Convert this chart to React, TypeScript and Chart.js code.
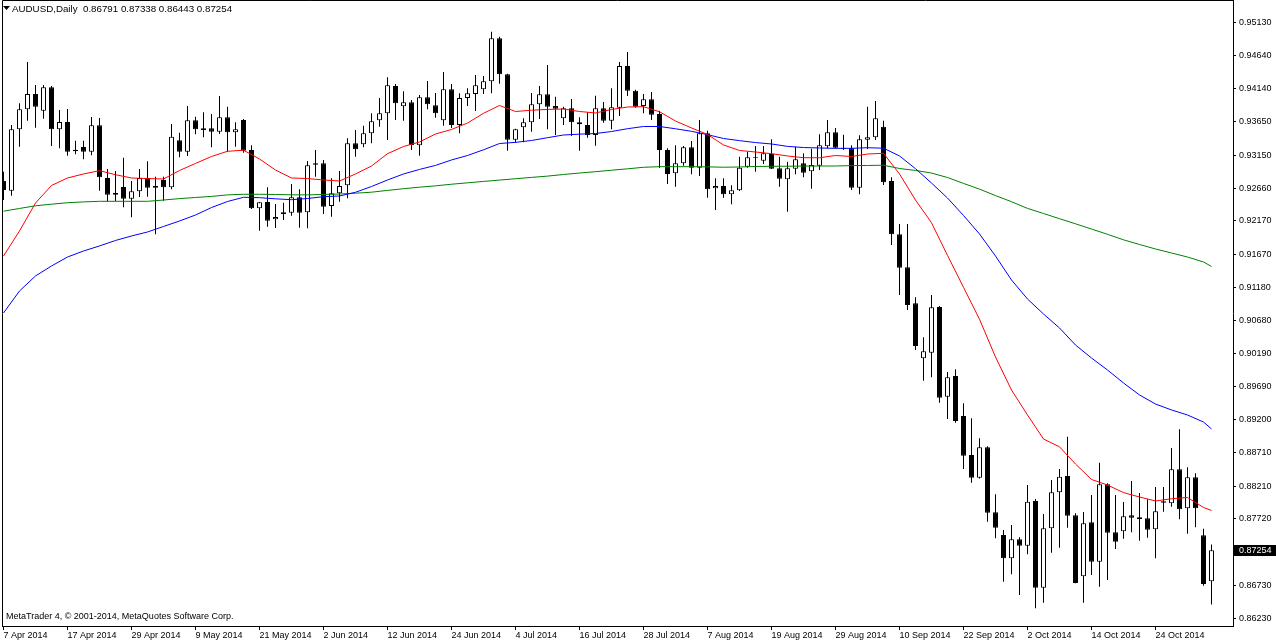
import React, { useEffect, useRef } from 'react';
import { Chart, registerables } from 'chart.js';

Chart.register(...registerables);

// ---------- data ----------
const symbolName = 'AUDUSD,Daily';
const footerText = 'MetaTrader 4, \u00A9 2001-2014, MetaQuotes Software Corp.';

const dateTickLabels = ['7 Apr 2014', '17 Apr 2014', '29 Apr 2014', '9 May 2014', '21 May 2014', '2 Jun 2014', '12 Jun 2014', '24 Jun 2014', '4 Jul 2014', '16 Jul 2014', '28 Jul 2014', '7 Aug 2014', '19 Aug 2014', '29 Aug 2014', '10 Sep 2014', '22 Sep 2014', '2 Oct 2014', '14 Oct 2014', '24 Oct 2014'];
const dateTickBars = [0, 8, 16, 24, 32, 40, 48, 56, 64, 72, 80, 88, 96, 104, 112, 120, 128, 136, 144];

const priceTicks = [0.95130, 0.94640, 0.94140, 0.93650, 0.93150, 0.92660, 0.92170, 0.91670, 0.91180, 0.90680, 0.90190, 0.89690, 0.89200, 0.88710, 0.88210, 0.87720, 0.86730, 0.86230];

const opens = [
  0.92771, 0.92621, 0.93538, 0.93837, 0.94065, 0.93816, 0.94165, 0.93538, 0.93647, 0.93234,
  0.93274, 0.93204, 0.93598, 0.92811, 0.92587, 0.92677, 0.92502, 0.92612, 0.92811, 0.92691,
  0.92781, 0.92672, 0.93374, 0.93204, 0.93673, 0.93553, 0.93553, 0.93502, 0.93717, 0.93493,
  0.93677, 0.93229, 0.92358, 0.92453, 0.92194, 0.92299, 0.92293, 0.92523, 0.92299, 0.93030,
  0.93030, 0.92393, 0.92583, 0.92702, 0.93329, 0.93314, 0.93478, 0.93673, 0.93777, 0.94185,
  0.93882, 0.93941, 0.93299, 0.94016, 0.93897, 0.93673, 0.94135, 0.93602, 0.94006, 0.94065,
  0.94135, 0.94255, 0.94897, 0.94359, 0.93383, 0.93568, 0.93643, 0.93911, 0.94061, 0.93886,
  0.93703, 0.93852, 0.93643, 0.93602, 0.93453, 0.93852, 0.93667, 0.93861, 0.94483, 0.94115,
  0.93886, 0.93986, 0.93767, 0.93229, 0.92881, 0.93030, 0.93269, 0.92965, 0.93478, 0.92657,
  0.92691, 0.92568, 0.92627, 0.92980, 0.93120, 0.93070, 0.93169, 0.92956, 0.92792, 0.92950,
  0.93030, 0.92911, 0.92995, 0.93284, 0.93493, 0.93254, 0.93254, 0.92666, 0.93383, 0.93419,
  0.93577, 0.92766, 0.91970, 0.91477, 0.90940, 0.90118, 0.90202, 0.90884, 0.89545, 0.89854,
  0.89257, 0.88675, 0.88336, 0.88790, 0.87819, 0.87480, 0.87132, 0.87416, 0.87320, 0.87988,
  0.86693, 0.87580, 0.88117, 0.88361, 0.87774, 0.86863, 0.87670, 0.87081, 0.88237, 0.87520,
  0.87535, 0.87774, 0.87744, 0.87729, 0.87565, 0.87983, 0.87953, 0.88461, 0.87879, 0.88342,
  0.87475, 0.86791,
];

const highs = [
  0.92905, 0.93602, 0.93926, 0.94543, 0.94200, 0.94200, 0.94185, 0.93826, 0.93841, 0.93368,
  0.93368, 0.93722, 0.93707, 0.92945, 0.92915, 0.93114, 0.92766, 0.92945, 0.93060, 0.92830,
  0.92830, 0.93617, 0.93487, 0.93886, 0.93726, 0.93792, 0.93767, 0.94035, 0.93876, 0.93643,
  0.93692, 0.93299, 0.92453, 0.92672, 0.92423, 0.92442, 0.92721, 0.92642, 0.93065, 0.93229,
  0.93080, 0.92806, 0.92915, 0.93404, 0.93528, 0.93592, 0.93777, 0.94006, 0.94315, 0.94215,
  0.94106, 0.93976, 0.94050, 0.94259, 0.94080, 0.94394, 0.94215, 0.94076, 0.94150, 0.94349,
  0.94334, 0.94996, 0.94921, 0.94369, 0.93548, 0.93703, 0.94080, 0.94185, 0.94498, 0.94025,
  0.93876, 0.93991, 0.93717, 0.93792, 0.94040, 0.93946, 0.94150, 0.94543, 0.94692, 0.94130,
  0.94065, 0.94095, 0.93816, 0.93254, 0.93299, 0.93289, 0.93363, 0.93677, 0.93517, 0.92806,
  0.92806, 0.92702, 0.93129, 0.93199, 0.93289, 0.93289, 0.93389, 0.93129, 0.93054, 0.93278,
  0.93180, 0.93248, 0.93464, 0.93677, 0.93558, 0.93458, 0.93299, 0.93449, 0.93876, 0.93961,
  0.93667, 0.92821, 0.92124, 0.92124, 0.91029, 0.90432, 0.91064, 0.90899, 0.89914, 0.89954,
  0.89447, 0.89222, 0.88924, 0.88805, 0.88088, 0.87554, 0.87629, 0.87445, 0.88226, 0.88018,
  0.87793, 0.88301, 0.88466, 0.88948, 0.87804, 0.87823, 0.88077, 0.88560, 0.88252, 0.88077,
  0.87973, 0.88286, 0.88107, 0.88013, 0.88197, 0.88197, 0.88779, 0.89058, 0.88491, 0.88401,
  0.87574, 0.87338,
];

const lows = [
  0.92482, 0.92547, 0.93278, 0.93667, 0.93562, 0.93696, 0.93289, 0.93254, 0.93144, 0.93165,
  0.93090, 0.93150, 0.92621, 0.92463, 0.92463, 0.92373, 0.92224, 0.92527, 0.92532, 0.91970,
  0.92472, 0.92642, 0.93120, 0.93140, 0.93464, 0.93419, 0.93269, 0.93468, 0.93204, 0.93278,
  0.93189, 0.92348, 0.92024, 0.92084, 0.92064, 0.92184, 0.92248, 0.92069, 0.92060, 0.92830,
  0.92273, 0.92233, 0.92457, 0.92508, 0.93129, 0.93269, 0.93329, 0.93577, 0.93378, 0.93677,
  0.93667, 0.93229, 0.93144, 0.93837, 0.93711, 0.93592, 0.93558, 0.93478, 0.93886, 0.93811,
  0.94065, 0.94076, 0.94219, 0.93219, 0.93338, 0.93344, 0.93502, 0.93692, 0.93538, 0.93453,
  0.93602, 0.93438, 0.93219, 0.93413, 0.93293, 0.93637, 0.93538, 0.93737, 0.94035, 0.93861,
  0.93777, 0.93677, 0.92960, 0.92721, 0.92681, 0.92995, 0.92866, 0.92841, 0.92517, 0.92333,
  0.92517, 0.92418, 0.92617, 0.92965, 0.92905, 0.93020, 0.92945, 0.92681, 0.92308, 0.92866,
  0.92821, 0.92651, 0.92930, 0.93254, 0.93254, 0.93229, 0.92632, 0.92568, 0.93244, 0.93378,
  0.92706, 0.91810, 0.91064, 0.90840, 0.90243, 0.89784, 0.89835, 0.89455, 0.89212, 0.89157,
  0.88466, 0.88261, 0.88324, 0.87679, 0.87431, 0.86782, 0.86893, 0.86584, 0.87192, 0.86385,
  0.86469, 0.87216, 0.87290, 0.87589, 0.86758, 0.86469, 0.86883, 0.86708, 0.86808, 0.87271,
  0.87425, 0.87520, 0.87395, 0.87440, 0.87132, 0.87828, 0.87902, 0.87714, 0.87499, 0.87595,
  0.86723, 0.86443,
];

const closes = [
  0.92632, 0.93538, 0.93837, 0.94065, 0.93876, 0.94165, 0.93538, 0.93647, 0.93204, 0.93210,
  0.93204, 0.93598, 0.92821, 0.92562, 0.92562, 0.92502, 0.92612, 0.92811, 0.92666, 0.92666,
  0.92672, 0.93428, 0.93204, 0.93673, 0.93538, 0.93528, 0.93502, 0.93717, 0.93493, 0.93538,
  0.93219, 0.92358, 0.92448, 0.92173, 0.92229, 0.92273, 0.92523, 0.92293, 0.93001, 0.93010,
  0.92382, 0.92583, 0.92691, 0.93329, 0.93240, 0.93478, 0.93658, 0.93777, 0.94195, 0.93926,
  0.93941, 0.93304, 0.94016, 0.93911, 0.93777, 0.94135, 0.93602, 0.94006, 0.94076, 0.94195,
  0.94255, 0.94897, 0.94359, 0.93383, 0.93538, 0.93643, 0.93911, 0.94061, 0.93876, 0.93846,
  0.93852, 0.93643, 0.93613, 0.93453, 0.93852, 0.93667, 0.93867, 0.94483, 0.94115, 0.93876,
  0.93986, 0.93756, 0.93229, 0.92871, 0.93030, 0.93269, 0.92965, 0.93478, 0.92642, 0.92691,
  0.92568, 0.92627, 0.92965, 0.93120, 0.93109, 0.93180, 0.92950, 0.92801, 0.92956, 0.93090,
  0.92890, 0.93005, 0.93299, 0.93493, 0.93263, 0.93244, 0.92666, 0.93389, 0.93419, 0.93703,
  0.92747, 0.91970, 0.91471, 0.90914, 0.90302, 0.90223, 0.90880, 0.89530, 0.89835, 0.89182,
  0.88664, 0.88336, 0.88790, 0.87813, 0.87589, 0.87132, 0.87416, 0.87320, 0.87977, 0.86693,
  0.87580, 0.88117, 0.88350, 0.87768, 0.86763, 0.87655, 0.87081, 0.88237, 0.87514, 0.87380,
  0.87759, 0.87738, 0.87719, 0.87559, 0.87834, 0.87962, 0.88461, 0.87864, 0.88342, 0.87879,
  0.86748, 0.87254,
];

// moving averages read every second bar (last one on the final bar)
const maBars = Array.from({ length: 76 }, (_, k) => k * 2).concat([151]);

const maRed = [
  0.91646, 0.92020, 0.92438, 0.92699, 0.92811, 0.92871, 0.92920, 0.92860, 0.92811, 0.92803,
  0.92796, 0.92923, 0.93028, 0.93132, 0.93210, 0.93226, 0.93095, 0.92930, 0.92811, 0.92803,
  0.92781, 0.92766, 0.92871, 0.92990, 0.93174, 0.93281, 0.93349, 0.93468, 0.93535, 0.93632,
  0.93777, 0.93894, 0.93804, 0.93823, 0.93835, 0.93841, 0.93804, 0.93782, 0.93834, 0.93871,
  0.93876, 0.93800, 0.93662, 0.93558, 0.93461, 0.93304, 0.93222, 0.93199, 0.93174, 0.93140,
  0.93114, 0.93113, 0.93147, 0.93132, 0.93169, 0.93180, 0.92871, 0.92482, 0.92142, 0.91655,
  0.91179, 0.90702, 0.90138, 0.89645, 0.89272, 0.88913, 0.88797, 0.88540, 0.88309, 0.88226,
  0.88113, 0.88047, 0.87988, 0.88021, 0.88040, 0.87891, 0.87846,
];

const maBlue = [
  0.90795, 0.91124, 0.91348, 0.91497, 0.91631, 0.91721, 0.91796, 0.91878, 0.91945, 0.92005,
  0.92087, 0.92169, 0.92258, 0.92370, 0.92460, 0.92523, 0.92517, 0.92500, 0.92487, 0.92505,
  0.92532, 0.92542, 0.92598, 0.92684, 0.92781, 0.92871, 0.92939, 0.92999, 0.93080, 0.93147,
  0.93232, 0.93326, 0.93343, 0.93371, 0.93413, 0.93453, 0.93466, 0.93475, 0.93505, 0.93547,
  0.93580, 0.93580, 0.93546, 0.93508, 0.93458, 0.93401, 0.93369, 0.93340, 0.93319, 0.93283,
  0.93266, 0.93259, 0.93254, 0.93254, 0.93263, 0.93256, 0.93140, 0.92950, 0.92736, 0.92512,
  0.92251, 0.91975, 0.91646, 0.91288, 0.91004, 0.90780, 0.90571, 0.90317, 0.90123, 0.89944,
  0.89750, 0.89571, 0.89436, 0.89347, 0.89272, 0.89167, 0.89063,
];

const maGreen = [
  0.92315, 0.92356, 0.92396, 0.92420, 0.92442, 0.92454, 0.92463, 0.92463, 0.92463, 0.92463,
  0.92482, 0.92503, 0.92520, 0.92536, 0.92559, 0.92568, 0.92568, 0.92565, 0.92560, 0.92559,
  0.92565, 0.92572, 0.92584, 0.92599, 0.92626, 0.92651, 0.92674, 0.92694, 0.92718, 0.92739,
  0.92760, 0.92780, 0.92800, 0.92820, 0.92839, 0.92863, 0.92885, 0.92905, 0.92927, 0.92948,
  0.92971, 0.92980, 0.92980, 0.92980, 0.92977, 0.92972, 0.92975, 0.92983, 0.92986, 0.92987,
  0.92989, 0.92990, 0.92990, 0.92996, 0.92998, 0.93002, 0.92953, 0.92924, 0.92885, 0.92818,
  0.92730, 0.92645, 0.92548, 0.92457, 0.92357, 0.92281, 0.92203, 0.92127, 0.92049, 0.91970,
  0.91888, 0.91818, 0.91751, 0.91691, 0.91631, 0.91557, 0.91490,
];

// ---------- layout / style ----------
const CANVAS_W = 1276;
const CANVAS_H = 641;
const PRICE_AXIS_W = 43;
const TIME_AXIS_H = 15;
const Y_MAX = 0.95469;
const Y_MIN = 0.86121;
const X_MIN = -0.1875;
const X_MAX = 153.6875;
const FONT = '"Liberation Sans", Arial, sans-serif';

const fmt = (v: number) => v.toFixed(5);

const mt4Decor = {
  id: 'mt4Decor',
  afterDraw(chart: any) {
    const { ctx, chartArea: a, scales } = chart;
    const n = closes.length - 1;
    ctx.save();
    // frame (top + left)
    ctx.strokeStyle = '#000';
    ctx.lineWidth = 1;
    ctx.beginPath();
    ctx.moveTo(a.left + 0.5, a.bottom);
    ctx.lineTo(a.left + 0.5, a.top + 0.5);
    ctx.lineTo(a.right, a.top + 0.5);
    ctx.stroke();
    // title with triangle
    ctx.fillStyle = '#000';
    ctx.beginPath();
    ctx.moveTo(3, 6);
    ctx.lineTo(10, 6);
    ctx.lineTo(6.5, 10);
    ctx.closePath();
    ctx.fill();
    ctx.font = `9.75px ${FONT}`;
    ctx.textAlign = 'left';
    ctx.textBaseline = 'alphabetic';
    ctx.fillText(`${symbolName}  ${fmt(opens[n])} ${fmt(highs[n])} ${fmt(lows[n])} ${fmt(closes[n])}`, 12, 12);
    // footer
    ctx.font = `9px ${FONT}`;
    ctx.fillText(footerText, 6, 619);
    // last price box
    const y = scales.y.getPixelForValue(closes[n]);
    ctx.fillRect(a.right + 1, Math.round(y) - 5, CANVAS_W - a.right - 1, 11);
    ctx.fillStyle = '#fff';
    ctx.textBaseline = 'middle';
    ctx.fillText(fmt(closes[n]), a.right + 6, Math.round(y) + 0.5);
    ctx.restore();
  },
};

export default function App() {
  const ref = useRef<HTMLCanvasElement>(null);

  useEffect(() => {
    const canvas = ref.current;
    if (!canvas) return;

    const bullish = closes.map((c, i) => c >= opens[i]);
    const lineDs = (data: number[], color: string, label: string) => ({
      type: 'line' as const,
      label,
      data: data.map((v, k) => ({ x: maBars[k], y: v })),
      borderColor: color,
      borderWidth: 1,
      pointRadius: 0,
      tension: 0,
      fill: false,
      order: 0,
    });

    const chart = new Chart(canvas, {
      type: 'bar',
      data: {
        datasets: [
          lineDs(maRed, '#FF0000', 'MA fast'),
          lineDs(maBlue, '#0000FF', 'MA medium'),
          lineDs(maGreen, '#008000', 'MA slow'),
          {
            type: 'bar',
            label: 'bodies',
            data: opens.map((o, i) => ({ x: i, y: [o, closes[i]] })) as any,
            backgroundColor: bullish.map((b) => (b ? '#FFFFFF' : '#000000')),
            borderColor: '#000000',
            borderWidth: 1,
            borderSkipped: false,
            grouped: false,
            maxBarThickness: 5,
            inflateAmount: 0,
            order: 1,
          } as any,
          {
            type: 'bar',
            label: 'wicks',
            data: lows.map((l, i) => ({ x: i, y: [l, highs[i]] })) as any,
            backgroundColor: '#000000',
            borderWidth: 0,
            grouped: false,
            maxBarThickness: 1,
            inflateAmount: 0,
            order: 2,
          } as any,
        ],
      },
      options: {
        responsive: false,
        animation: false,
        devicePixelRatio: 1,
        layout: { padding: { left: 2, top: 0, right: 0, bottom: 0 } },
        plugins: {
          legend: { display: false },
          tooltip: { enabled: false },
          title: { display: false },
        },
        scales: {
          x: {
            type: 'linear',
            min: X_MIN,
            max: X_MAX,
            offset: false,
            afterBuildTicks: (scale: any) => {
              scale.ticks = dateTickBars.map((v) => ({ value: v }));
            },
            afterFit: (scale: any) => {
              scale.height = TIME_AXIS_H;
              scale.paddingLeft = 0;
              scale.paddingRight = 0;
            },
            grid: {
              display: true,
              drawOnChartArea: false,
              drawTicks: true,
              tickLength: 4,
              color: '#000000',
              offset: false,
            },
            border: { display: true, color: '#000000', width: 1 },
            ticks: {
              autoSkip: false,
              maxRotation: 0,
              minRotation: 0,
              align: 'start',
              padding: 0,
              color: '#000000',
              font: { family: FONT, size: 9 },
              callback: (_v: any, index: number) => dateTickLabels[index],
            },
          },
          y: {
            type: 'linear',
            position: 'right',
            min: Y_MIN,
            max: Y_MAX,
            afterBuildTicks: (scale: any) => {
              scale.ticks = priceTicks.map((v) => ({ value: v }));
            },
            afterFit: (scale: any) => {
              scale.width = PRICE_AXIS_W;
              scale.paddingTop = 0;
              scale.paddingBottom = 0;
            },
            grid: {
              display: true,
              drawOnChartArea: false,
              drawTicks: true,
              tickLength: 3,
              color: '#000000',
            },
            border: { display: true, color: '#000000', width: 1 },
            ticks: {
              autoSkip: false,
              padding: 3,
              color: '#000000',
              font: { family: FONT, size: 9 },
              callback: (v: any) => fmt(Number(v)),
            },
          },
        },
      },
      plugins: [mt4Decor],
    } as any);

    return () => chart.destroy();
  }, []);

  return (
    <div style={{ position: 'fixed', left: 0, top: 0, width: CANVAS_W, height: CANVAS_H, background: '#FFFFFF' }}>
      <canvas ref={ref} width={CANVAS_W} height={CANVAS_H} style={{ display: 'block' }} />
    </div>
  );
}
